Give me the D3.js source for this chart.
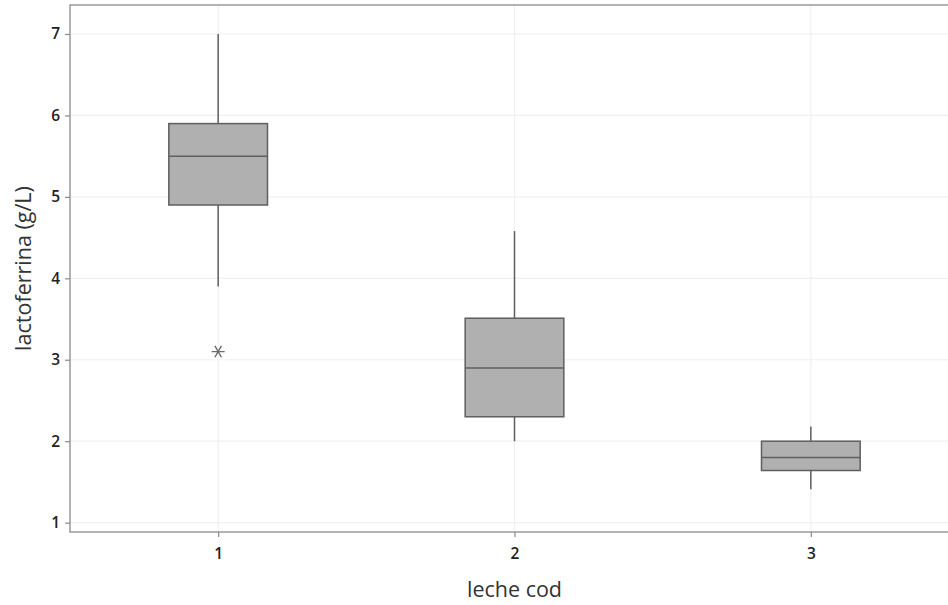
<!DOCTYPE html>
<html>
<head>
<meta charset="utf-8">
<script src="https://cdn.jsdelivr.net/npm/d3@7"></script>
<style>
  body { margin: 0; background: #fff; overflow: hidden; }
  svg { display: block; font-family: "Open Sans", "Noto Sans", sans-serif; }
</style>
</head>
<body>
<div id="chart"></div>
<script>
const categories = ["1", "2", "3"];
const whiskerLow  = [3.9, 2.0, 1.41];
const q1          = [4.9, 2.3, 1.64];
const median      = [5.5, 2.9, 1.8];
const q3          = [5.9, 3.51, 2.0];
const whiskerHigh = [7.0, 4.58, 2.18];
const outliers    = [{cat: "1", value: 3.1}];
const yTicks = [1, 2, 3, 4, 5, 6, 7];

const WIDTH = 948, HEIGHT = 605;
const margin = {top: 5, right: -11, bottom: 73, left: 70};
const innerW = WIDTH - margin.left - margin.right;
const innerH = HEIGHT - margin.top - margin.bottom;

const svg = d3.select('#chart').append('svg')
  .attr('width', WIDTH)
  .attr('height', HEIGHT);

const g = svg.append('g')
  .attr('transform', `translate(${margin.left},${margin.top})`);

const x = d3.scaleLinear().domain([0.5, 3.5]).range([0, innerW]);
const y = d3.scaleLinear().domain([0.885, 7.356]).range([innerH, 0]);
const xc = c => x(+c);
const boxW = x(1.333) - x(1);

// grid
g.append('g').selectAll('line').data(yTicks).enter().append('line')
  .attr('x1', 0).attr('x2', innerW)
  .attr('y1', d => y(d)).attr('y2', d => y(d))
  .attr('stroke', '#f0f0f0').attr('stroke-width', 1.2);
g.append('g').selectAll('line').data(categories).enter().append('line')
  .attr('x1', xc).attr('x2', xc)
  .attr('y1', 0).attr('y2', innerH)
  .attr('stroke', '#f0f0f0').attr('stroke-width', 1.2);

// frame
g.append('rect')
  .attr('x', 0).attr('y', 0).attr('width', innerW).attr('height', innerH)
  .attr('fill', 'none').attr('stroke', '#8a8a8a').attr('stroke-width', 1.3);

// axes
const yAxis = g.append('g')
  .call(d3.axisLeft(y).tickValues(yTicks).tickSize(5).tickPadding(5).tickFormat(d3.format('d')));
const xAxis = g.append('g')
  .attr('transform', `translate(0,${innerH})`)
  .call(d3.axisBottom(x).tickValues(categories.map(Number)).tickSize(5).tickPadding(11).tickFormat(d3.format('d')));
[xAxis, yAxis].forEach(a => {
  a.select('.domain').remove();
  a.selectAll('.tick line').attr('stroke', '#8a8a8a').attr('stroke-width', 1.2);
  a.selectAll('.tick text')
    .attr('fill', '#222')
    .style('font-size', '15.5px')
    .style('font-weight', 600)
    .style('font-family', '"Open Sans", sans-serif');
});

// boxes
const stroke = '#5f5f5f';
categories.forEach((c, i) => {
  const cx = xc(c);
  g.append('line')
    .attr('x1', cx).attr('x2', cx)
    .attr('y1', y(whiskerHigh[i])).attr('y2', y(q3[i]))
    .attr('stroke', stroke).attr('stroke-width', 1.5);
  g.append('line')
    .attr('x1', cx).attr('x2', cx)
    .attr('y1', y(q1[i])).attr('y2', y(whiskerLow[i]))
    .attr('stroke', stroke).attr('stroke-width', 1.5);
  g.append('rect')
    .attr('x', cx - boxW / 2).attr('width', boxW)
    .attr('y', y(q3[i])).attr('height', y(q1[i]) - y(q3[i]))
    .attr('fill', '#b0b0b0').attr('stroke', stroke).attr('stroke-width', 1.5);
  g.append('line')
    .attr('x1', cx - boxW / 2).attr('x2', cx + boxW / 2)
    .attr('y1', y(median[i])).attr('y2', y(median[i]))
    .attr('stroke', stroke).attr('stroke-width', 1.5);
});

// outliers (asterisk, horizontal arm like Minitab)
g.selectAll('.outlier').data(outliers).enter().append('path')
  .attr('class', 'outlier')
  .attr('transform', d => `translate(${xc(d.cat)},${y(d.value)}) rotate(90)`)
  .attr('d', d3.symbol(d3.symbolAsterisk, 120))
  .attr('fill', 'none').attr('stroke', '#6a6a6a').attr('stroke-width', 1.4);

// titles
svg.append('text')
  .attr('transform', `translate(31,${margin.top + innerH / 2}) rotate(-90)`)
  .attr('text-anchor', 'middle')
  .attr('fill', '#333')
  .style('font-size', '21.5px')
  .text('lactoferrina (g/L)');
svg.append('text')
  .attr('x', margin.left + innerW / 2)
  .attr('y', 597)
  .attr('text-anchor', 'middle')
  .attr('fill', '#333')
  .style('font-size', '21.5px')
  .text('leche cod');
</script>
</body>
</html>
